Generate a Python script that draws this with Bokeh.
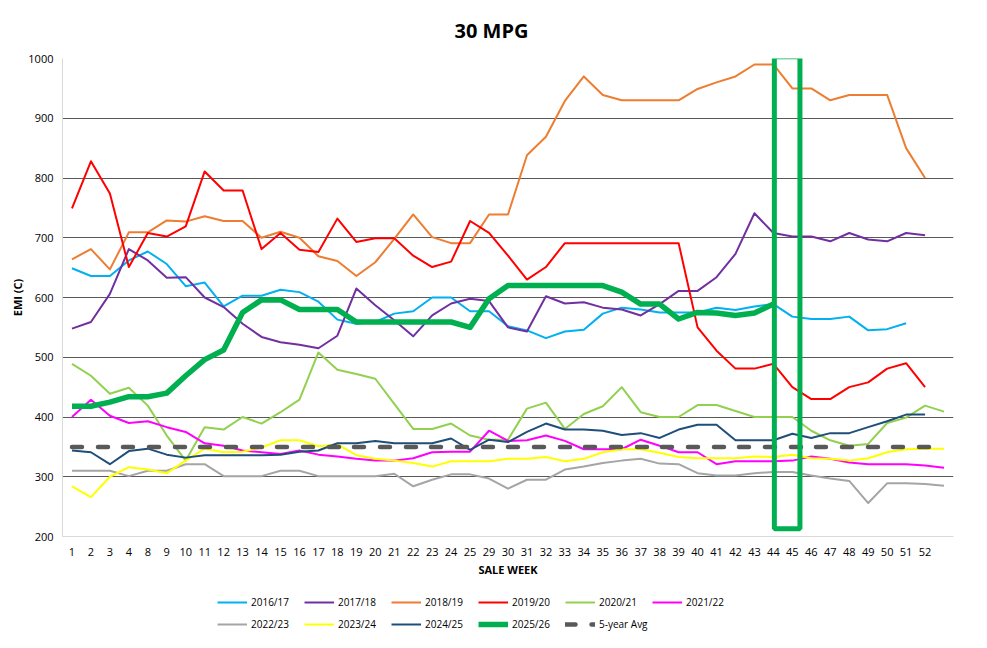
from bokeh.plotting import figure
from bokeh.layouts import column
from bokeh.models import Range1d, FixedTicker, Legend, LegendItem, BoxAnnotation
from bokeh.embed import file_html
from bokeh.resources import INLINE

# ---------------- data ----------------
weeks = ["1", "2", "3", "4", "8", "9", "10", "11", "12", "13", "14", "15", "16", "17",
         "18", "19", "20", "21", "22", "23", "24", "25", "29", "30", "31", "32", "33",
         "34", "35", "36", "37", "38", "39", "40", "41", "42", "43", "44", "45", "46",
         "47", "48", "49", "50", "51", "52", ""]

s2016_17 = [649, 636, 636, 662, 677, 656, 619, 625, 585, 603, 603, 613, 609, 593, 563,
            556, 559, 573, 577, 600, 600, 577, 577, 552, 545, 532, 543, 546, 573, 583,
            580, 575, 575, 575, 583, 579, 585, 589, 568, 564, 564, 568, 545, 547, 557]
s2017_18 = [548, 559, 606, 681, 662, 633, 634, 600, 584, 556, 534, 525, 521, 515, 536,
            615, 587, 562, 535, 570, 590, 598, 594, 550, 543, 602, 590, 592, 583, 580,
            570, 589, 611, 611, 634, 673, 741, 708, 702, 702, 694, 708, 697, 694, 708, 704]
s2018_19 = [664, 681, 647, 709, 709, 729, 727, 736, 728, 728, 700, 710, 700, 669, 661,
            636, 659, 698, 739, 701, 691, 691, 739, 739, 838, 869, 929, 970, 939, 930,
            930, 930, 930, 949, 960, 970, 990, 990, 950, 950, 930, 939, 939, 939, 850, 800]
s2019_20 = [749, 828, 774, 651, 708, 702, 719, 811, 779, 779, 681, 708, 680, 676, 732,
            693, 699, 699, 670, 651, 660, 728, 708, 670, 630, 651, 691, 691, 691, 691,
            691, 691, 691, 550, 511, 481, 481, 489, 450, 430, 430, 450, 458, 481, 490, 450]
s2020_21 = [489, 469, 439, 449, 419, 369, 327, 383, 379, 400, 389, 408, 429, 508, 479,
            472, 464, 422, 380, 380, 389, 369, 362, 362, 414, 424, 380, 405, 418, 450,
            408, 400, 400, 420, 420, 410, 400, 400, 400, 377, 361, 352, 355, 390, 399,
            419, 409]
s2021_22 = [400, 429, 402, 390, 393, 383, 375, 356, 352, 344, 341, 338, 344, 337, 334,
            330, 327, 327, 331, 341, 342, 342, 377, 360, 361, 369, 360, 346, 346, 346,
            362, 352, 341, 341, 321, 326, 326, 326, 327, 334, 330, 324, 321, 321, 321,
            319, 315]
s2022_23 = [310, 310, 310, 301, 310, 310, 321, 321, 301, 301, 301, 310, 310, 301, 301,
            301, 301, 305, 284, 295, 304, 304, 297, 280, 295, 295, 312, 317, 323, 327,
            330, 322, 321, 306, 302, 302, 306, 308, 308, 302, 297, 293, 256, 289, 289,
            288, 285]
s2023_24 = [284, 266, 300, 316, 312, 306, 327, 347, 341, 342, 349, 361, 361, 351, 354,
            336, 330, 327, 323, 317, 326, 326, 326, 330, 330, 333, 326, 330, 341, 346,
            346, 340, 333, 331, 331, 331, 334, 333, 337, 331, 330, 327, 331, 341, 346,
            347, 347]
s2024_25 = [344, 341, 321, 343, 347, 337, 332, 336, 336, 336, 336, 337, 342, 344, 356,
            356, 360, 356, 356, 356, 364, 345, 362, 358, 375, 389, 379, 379, 377, 370,
            373, 365, 379, 387, 387, 361, 361, 361, 372, 365, 373, 373, 383, 393, 404, 404]
s2025_26 = [418, 418, 425, 434, 434, 440, 469, 496, 512, 575, 596, 596, 580, 580, 580,
            559, 559, 559, 559, 559, 559, 550, 598, 620, 620, 620, 620, 620, 620, 609,
            589, 589, 564, 575, 574, 570, 574, 589]
avg_5yr = [350, 350, 350, 350, 350, 350, 350, 350, 350, 350, 350, 350, 350, 350, 350,
           350, 350, 350, 350, 350, 350, 350, 350, 350, 350, 350, 350, 350, 350, 350,
           350, 350, 350, 350, 350, 350, 350, 350, 350, 350, 350, 350, 350, 350, 350,
           350, 350]

y_ticks = [200, 300, 400, 500, 600, 700, 800, 900, 1000]
highlight_weeks = ["44", "45"]

series = [
    ("2016/17", s2016_17, "#00B0F0", 2, "solid"),
    ("2017/18", s2017_18, "#7030A0", 2, "solid"),
    ("2018/19", s2018_19, "#ED7D31", 2, "solid"),
    ("2019/20", s2019_20, "#FF0000", 2, "solid"),
    ("2020/21", s2020_21, "#92D050", 2, "solid"),
    ("2021/22", s2021_22, "#FF00FF", 2, "solid"),
    ("2022/23", s2022_23, "#A5A5A5", 2, "solid"),
    ("2023/24", s2023_24, "#FFFF00", 2, "solid"),
    ("2024/25", s2024_25, "#1F4E79", 2, "solid"),
    ("2025/26", s2025_26, "#00B050", 5.5, "solid"),
    ("5-year Avg", avg_5yr, "#595959", 4.5, "10 16 10 15 10 16"),
]

FONT = "Open Sans"
W = 986

p = figure(width=W, height=590, output_backend="svg", toolbar_location=None,
           x_range=Range1d(-0.5, len(weeks) - 0.5), y_range=Range1d(200, 1000),
           min_border_left=62, min_border_right=33, min_border_top=58,
           min_border_bottom=54)
p.outline_line_color = None

# title
p.title.text = "30 MPG"
p.title.text_font = FONT
p.title.text_font_size = "20px"
p.title.text_font_style = "bold"
p.title.text_color = "#000000"
p.title.align = "left"
p.title.offset = 392
p.title.vertical_align = "middle"
p.title.standoff = 27

# axes
p.xaxis.ticker = FixedTicker(ticks=list(range(len(weeks) - 1)))
p.xaxis.major_label_overrides = {i: w for i, w in enumerate(weeks)}
p.yaxis.ticker = FixedTicker(ticks=y_ticks)
for ax in (p.xaxis[0], p.yaxis[0]):
    ax.axis_line_color = "#D9D9D9"
    ax.major_tick_line_color = None
    ax.minor_tick_line_color = None
    ax.major_tick_out = 0
    ax.major_tick_in = 0
    ax.minor_tick_out = 0
    ax.minor_tick_in = 0
    ax.major_label_text_font = FONT
    ax.major_label_text_font_size = "11px"
    ax.major_label_text_color = "#000000"
    ax.axis_label_text_font = FONT
    ax.axis_label_text_font_size = "11px"
    ax.axis_label_text_font_style = "bold"
    ax.axis_label_text_color = "#000000"
p.xaxis.axis_label = "SALE WEEK"
p.xaxis.major_label_standoff = 11
p.xaxis.axis_label_standoff = 3
p.yaxis.axis_label = "EMI (C)"
p.yaxis.major_label_standoff = 9
p.yaxis.axis_label_standoff = 0

p.xgrid.visible = False
p.ygrid.ticker = FixedTicker(ticks=y_ticks[1:])
p.ygrid.grid_line_color = "#595959"
p.ygrid.grid_line_width = 1

for name, vals, color, lw, dash in series:
    xs = list(range(len(vals)))
    p.line(xs, vals, line_color=color, line_width=lw, line_dash=dash,
           line_join="round", line_cap="round" if dash != "solid" else "butt")

# highlight box around weeks 44-45
i0 = weeks.index(highlight_weeks[0])
i1 = weeks.index(highlight_weeks[1])
box = BoxAnnotation(left=i0 + 0.05, right=i1 + 0.4, bottom=213, top=1003,
                    fill_alpha=0, line_color="#00B050", line_alpha=1, line_width=5)
p.add_layout(box)

# ---------------- legend strip (separate small figure, same series off-range) ----------------
lg = figure(width=W, height=56, output_backend="svg", toolbar_location=None,
            title=None, x_axis_type=None, y_axis_type=None,
            x_range=Range1d(0, 1), y_range=Range1d(0, 1), min_border=0)
lg.outline_line_color = None

leg_renderers = {}
for name, vals, color, lw, dash in series:
    xs = list(range(len(vals)))
    leg_renderers[name] = lg.line(xs, vals, line_color=color, line_width=lw,
                                  line_dash=dash, line_join="round",
                                  line_cap="round" if dash != "solid" else "butt")

names = [s[0] for s in series]


def make_legend(row, loc):
    return Legend(items=[LegendItem(label=n, renderers=[leg_renderers[n]]) for n in row],
                  orientation="horizontal", location=loc,
                  glyph_width=30, glyph_height=22, label_standoff=4, label_width=53,
                  label_height=22, spacing=0, padding=0, margin=0,
                  border_line_color=None, background_fill_alpha=0,
                  label_text_font=FONT, label_text_font_size="10px",
                  label_text_color="#000000")


lg.add_layout(make_legend(names[:6], (155, 33)))
lg.add_layout(make_legend(names[6:], (155, 11)))

layout = column(p, lg, spacing=0)
open("out.html", "w").write(file_html(layout, INLINE))
